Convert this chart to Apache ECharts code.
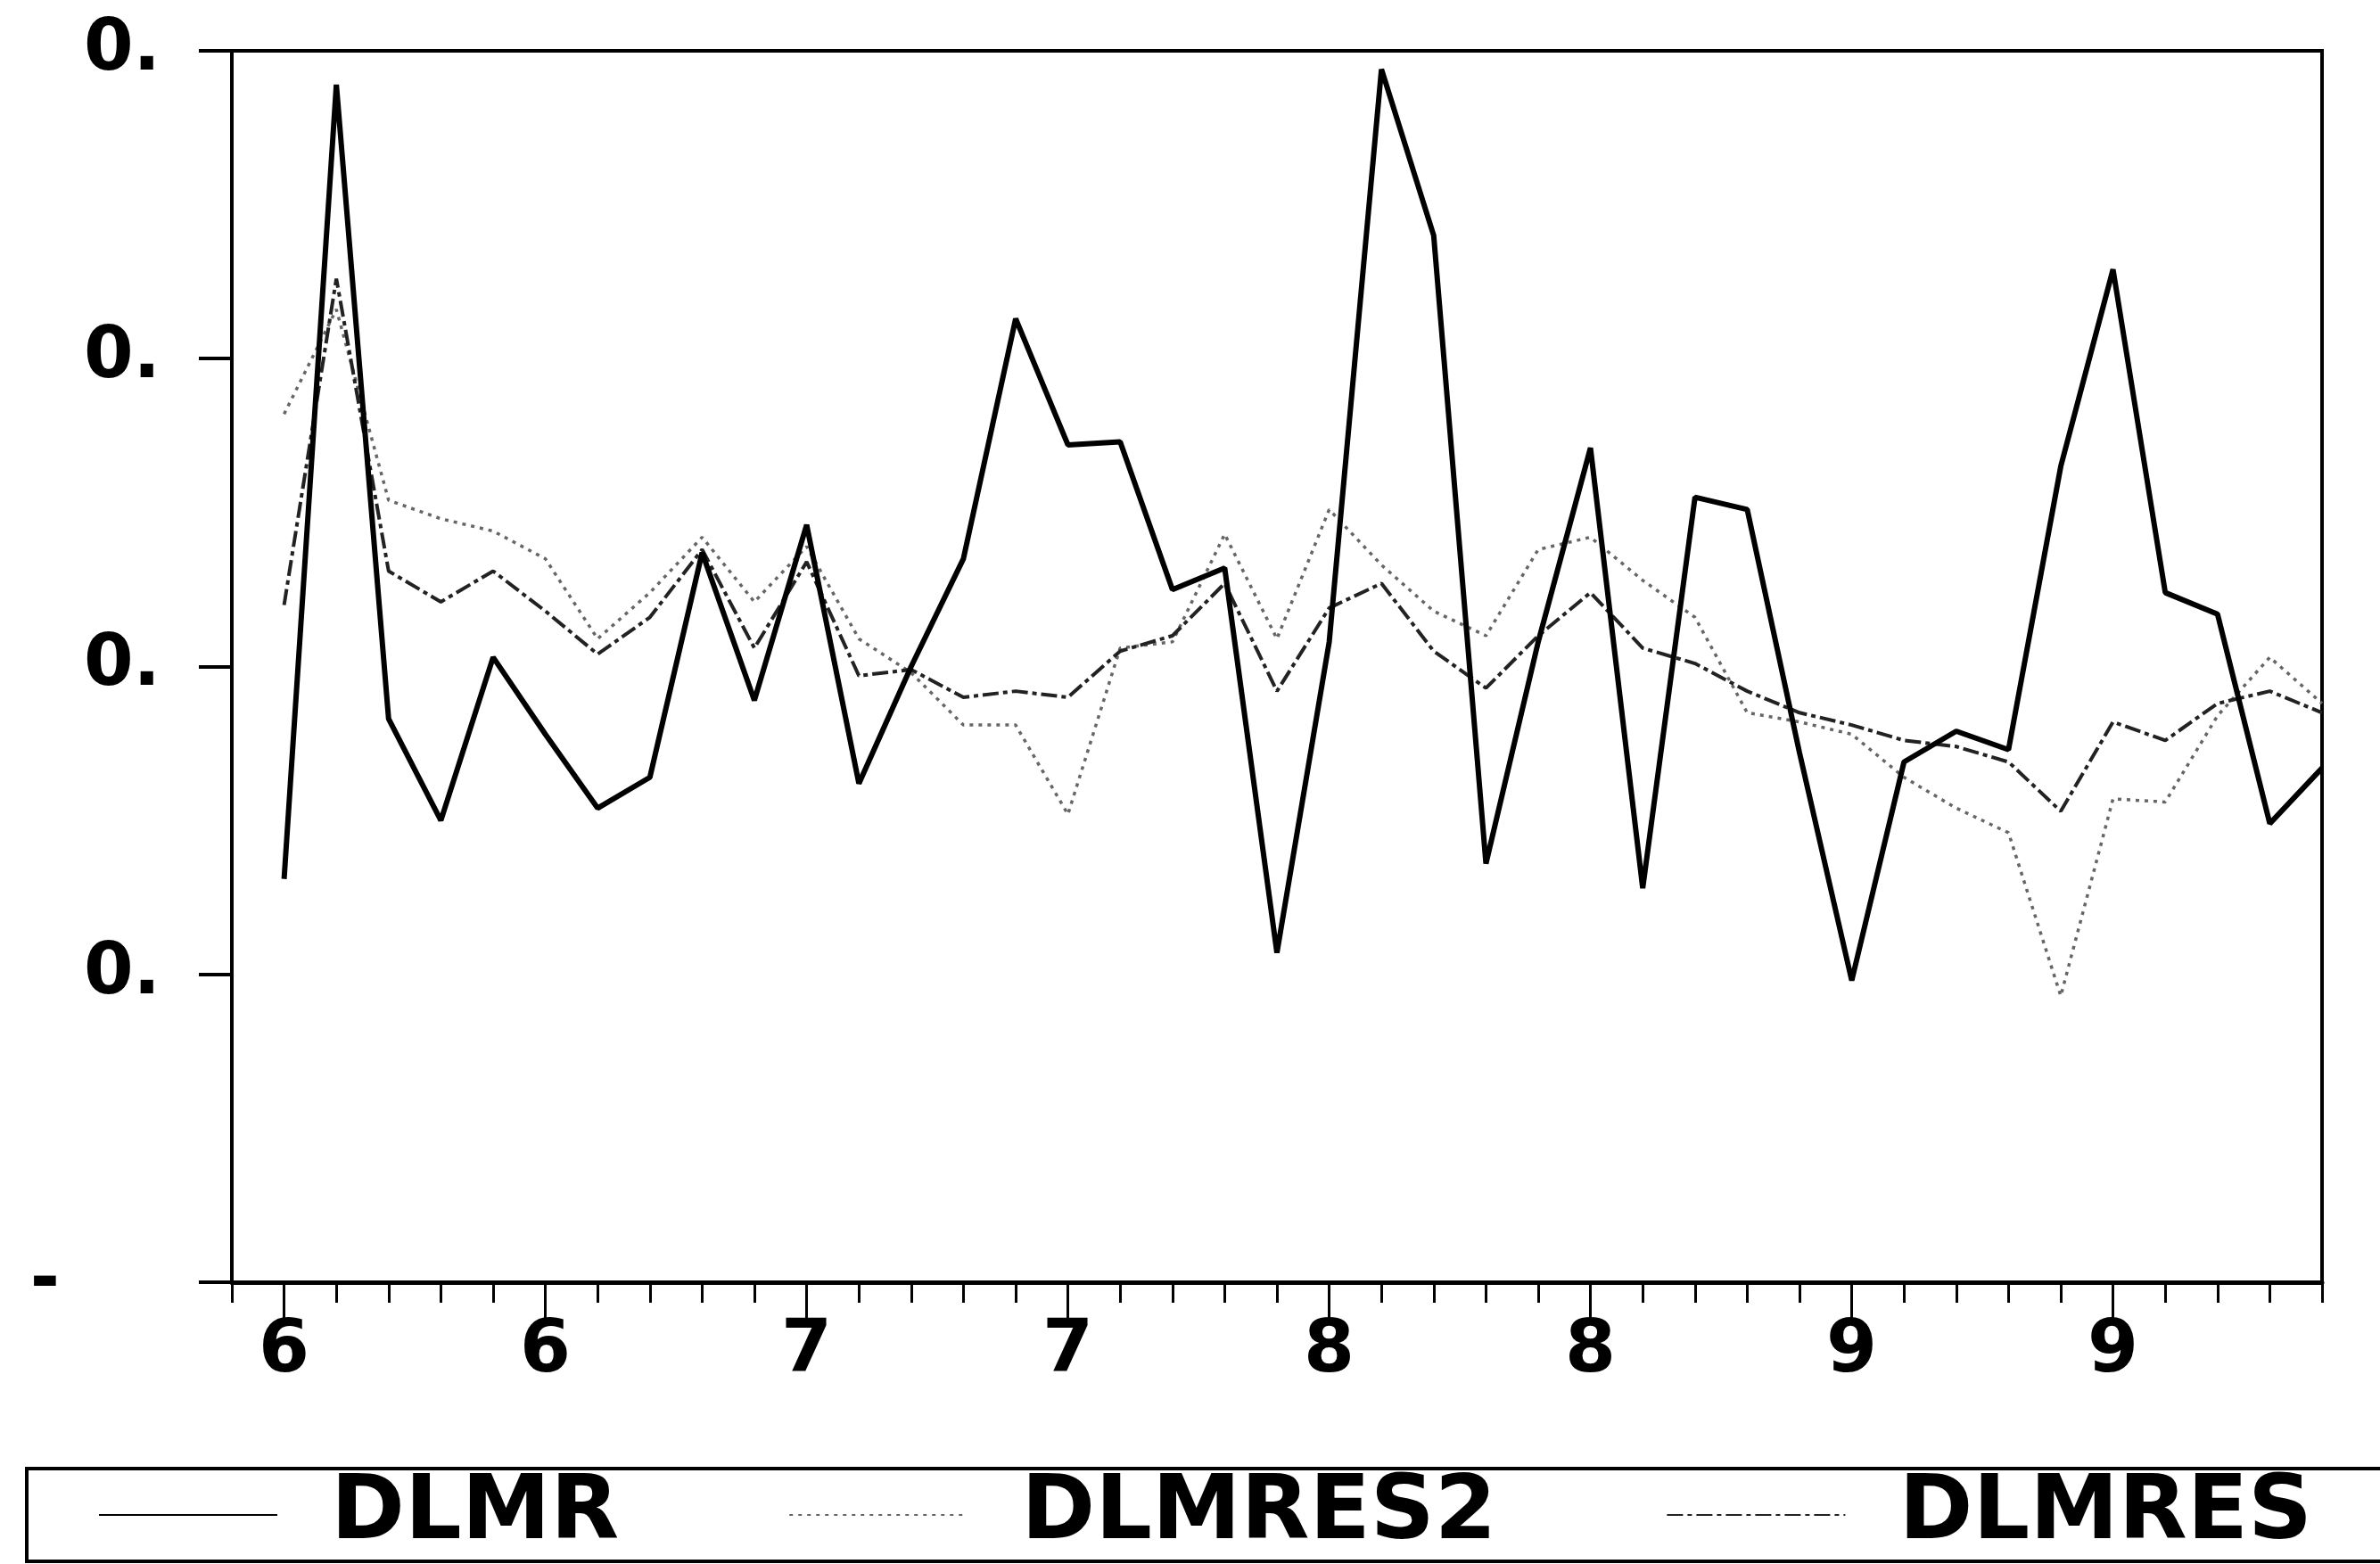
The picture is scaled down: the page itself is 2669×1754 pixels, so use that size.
<!DOCTYPE html>
<html>
<head>
<meta charset="utf-8">
<script src="https://cdn.jsdelivr.net/npm/echarts@6/dist/echarts.min.js"></script>
<style>
html,body{margin:0;padding:0;background:#fff;}
#c{width:2669px;height:1754px;}
</style>
</head>
<body>
<div id="c"></div>
<script>
// Axis categories (one tick per year)
const axisYears = ['1959','1960','1961','1962','1963','1964','1965','1966','1967','1968','1969',
  '1970','1971','1972','1973','1974','1975','1976','1977','1978','1979',
  '1980','1981','1982','1983','1984','1985','1986','1987','1988','1989',
  '1990','1991','1992','1993','1994','1995','1996','1997','1998','1999'];
// Observation years
const seriesYears = [1960,1961,1962,1963,1964,1965,1966,1967,1968,1969,
  1970,1971,1972,1973,1974,1975,1976,1977,1978,1979,
  1980,1981,1982,1983,1984,1985,1986,1987,1988,1989,
  1990,1991,1992,1993,1994,1995,1996,1997,1998,1999];
// Labelled (major) ticks and their labels as printed
const majorYears = [1960,1965,1970,1975,1980,1985,1990,1995];
const xTickLabels = ['6','6','7','7','8','8','9','9'];
const yPosLabel = '0.';
const yNegLabel = '-';

const seriesNames = ['DLMR','DLMRES2','DLMRES'];
const dlmr = [0.031,0.289,0.083,0.050,0.103,0.078,0.054,0.064,0.137,0.089,
  0.146,0.062,0.100,0.135,0.213,0.172,0.173,0.125,0.132,0.007,
  0.108,0.294,0.240,0.036,0.108,0.171,0.028,0.155,0.151,0.072,
  -0.002,0.069,0.079,0.073,0.165,0.229,0.124,0.117,0.049,0.067];
const dlmres2 = [0.182,0.216,0.154,0.148,0.144,0.135,0.109,0.124,0.142,0.121,
  0.139,0.109,0.098,0.081,0.081,0.052,0.106,0.108,0.143,0.109,
  0.151,0.133,0.118,0.110,0.138,0.142,0.128,0.116,0.085,0.082,
  0.078,0.064,0.054,0.046,-0.007,0.057,0.056,0.084,0.103,0.088];
const dlmres = [0.120,0.226,0.131,0.121,0.131,0.118,0.104,0.116,0.138,0.106,
  0.134,0.097,0.099,0.090,0.092,0.090,0.105,0.110,0.127,0.092,
  0.119,0.127,0.105,0.093,0.110,0.124,0.106,0.101,0.092,0.085,
  0.081,0.076,0.074,0.069,0.053,0.082,0.076,0.088,0.092,0.085];

const FONT = 'DejaVu Sans';
const pairs = arr => seriesYears.map((y, i) => [String(y), arr[i]]);
const isMajor = (i, v) => majorYears.indexOf(+v) >= 0;

const chart = echarts.init(document.getElementById('c'), null, {renderer: 'canvas'});
chart.setOption({
  animation: false,
  backgroundColor: '#fff',
  grid: {left: 260, right: 65, top: 57, bottom: 316, show: true,
         borderColor: '#000', borderWidth: 4, backgroundColor: '#fff'},
  legend: {
    data: seriesNames, left: 30, top: 1647, orient: 'horizontal', width: 4000,
    padding: [2, 400, 2, 80], itemGap: 190, itemWidth: 200, itemHeight: 20,
    borderColor: '#000', borderWidth: 4, backgroundColor: '#fff', borderRadius: 0,
    selectedMode: false,
    itemStyle: {opacity: 0},
    textStyle: {fontSize: 100, lineHeight: 80, fontWeight: 'bold', fontFamily: FONT, color: '#000', padding: [14, 0, 0, 55]}
  },
  xAxis: [
    {type: 'category', data: axisYears, boundaryGap: false,
     axisLine: {show: true, onZero: false, lineStyle: {color: '#000', width: 5}},
     axisTick: {show: true, interval: 0, length: 23, lineStyle: {color: '#000', width: 3}},
     axisLabel: {show: false}, splitLine: {show: false}},
    {type: 'category', data: axisYears, boundaryGap: false, position: 'bottom',
     axisLine: {show: false, onZero: false},
     axisTick: {show: true, interval: isMajor, length: 46, lineStyle: {color: '#000', width: 3}},
     axisLabel: {show: true, interval: isMajor, margin: 38,
                 formatter: v => xTickLabels[majorYears.indexOf(+v)] || '',
                 fontSize: 82, fontWeight: 'bold', fontFamily: FONT, color: '#000'},
     splitLine: {show: false}}
  ],
  yAxis: {
    type: 'value', min: -0.1, max: 0.3, interval: 0.1,
    axisLine: {show: true, onZero: false, lineStyle: {color: '#000', width: 4}},
    axisTick: {show: true, length: 37, lineStyle: {color: '#000', width: 4}},
    splitLine: {show: false},
    axisLabel: {
      margin: 80, fontSize: 80, fontWeight: 'bold', fontFamily: FONT, color: '#000',
      formatter: v => (v < -1e-9 ? '{n|' + yNegLabel + '}' : yPosLabel),
      rich: {n: {fontSize: 80, fontWeight: 'bold', fontFamily: FONT, color: '#000', padding: [0, 113, 0, 0]}}
    }
  },
  series: [
    {name: seriesNames[0], type: 'line', xAxisIndex: 0, data: pairs(dlmr), symbol: 'none',
     lineStyle: {color: '#000', width: 6, type: 'solid'}, itemStyle: {color: '#000'}, z: 4},
    {name: seriesNames[1], type: 'line', xAxisIndex: 0, data: pairs(dlmres2), symbol: 'none',
     lineStyle: {color: '#666', width: 3.5, type: [4, 6]}, itemStyle: {color: '#666'}, z: 2},
    {name: seriesNames[2], type: 'line', xAxisIndex: 0, data: pairs(dlmres), symbol: 'none',
     lineStyle: {color: '#222', width: 4, type: [18, 5, 5, 5]}, itemStyle: {color: '#222'}, z: 3}
  ]
});
</script>
</body>
</html>
